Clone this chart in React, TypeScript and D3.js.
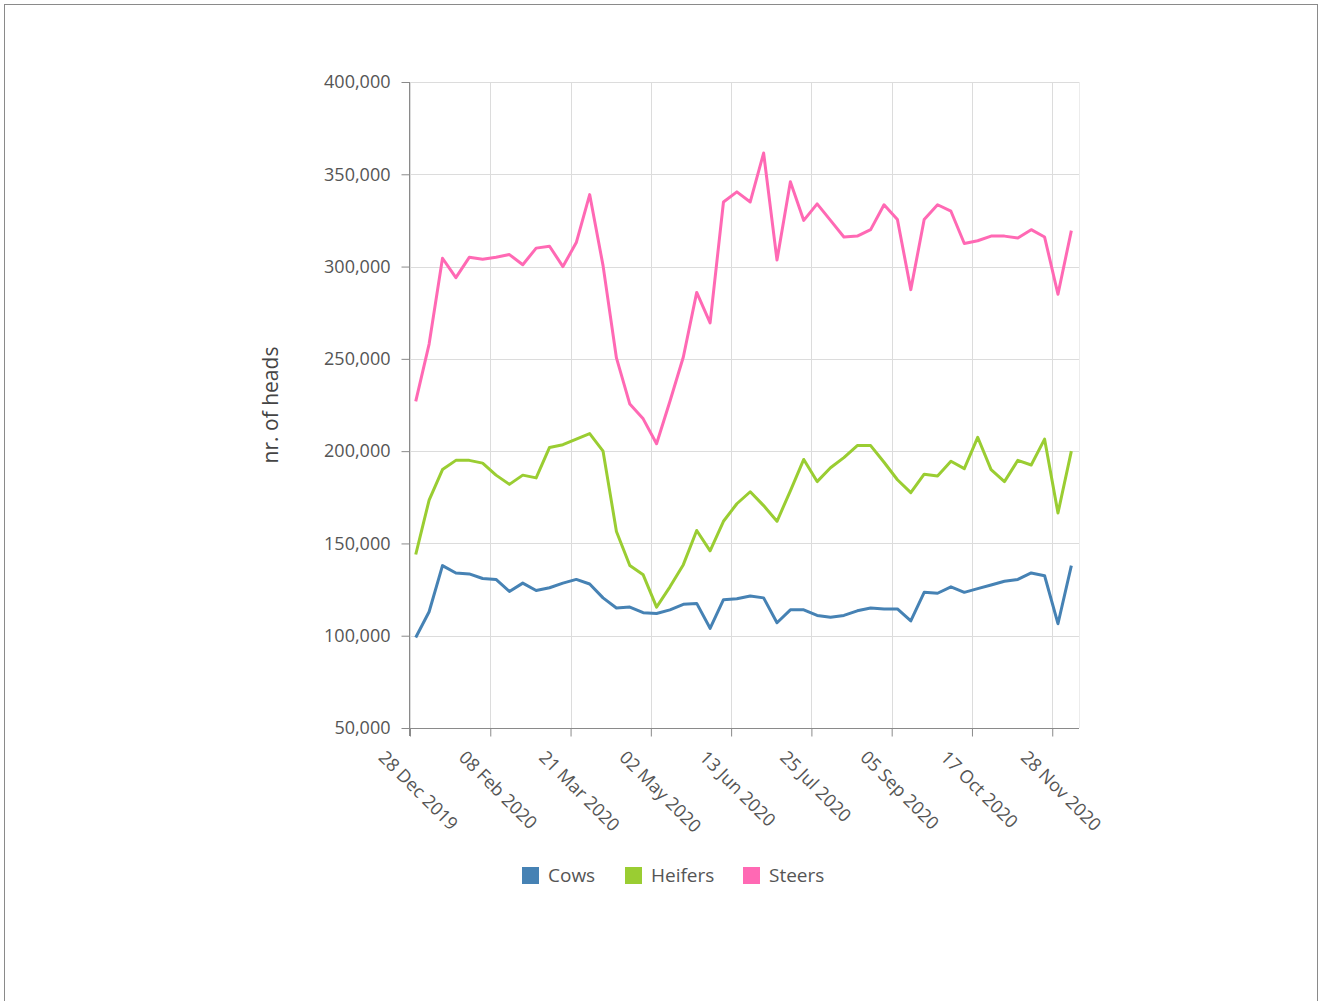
import React, {useEffect, useRef} from "react"
import * as d3 from "d3"

const weeks = [
    "2019-12-31", "2020-01-07", "2020-01-14", "2020-01-21", "2020-01-28",
    "2020-02-04", "2020-02-11", "2020-02-18", "2020-02-25", "2020-03-03",
    "2020-03-10", "2020-03-17", "2020-03-24", "2020-03-31", "2020-04-07",
    "2020-04-14", "2020-04-21", "2020-04-28", "2020-05-05", "2020-05-12",
    "2020-05-19", "2020-05-26", "2020-06-02", "2020-06-09", "2020-06-16",
    "2020-06-23", "2020-06-30", "2020-07-07", "2020-07-14", "2020-07-21",
    "2020-07-28", "2020-08-04", "2020-08-11", "2020-08-18", "2020-08-25",
    "2020-09-01", "2020-09-08", "2020-09-15", "2020-09-22", "2020-09-29",
    "2020-10-06", "2020-10-13", "2020-10-20", "2020-10-27", "2020-11-03",
    "2020-11-10", "2020-11-17", "2020-11-24", "2020-12-01", "2020-12-08",
]

const cows = [
    99000, 113000, 138000, 134000, 133500, 131000, 130500, 124000, 128500, 124500,
    126000, 128500, 130500, 128000, 120500, 115000, 115500, 112500, 112000, 114000,
    117000, 117500, 104000, 119500, 120000, 121500, 120500, 107000, 114000, 114000,
    111000, 110000, 111000, 113500, 115000, 114500, 114500, 108000, 123500, 123000,
    126500, 123500, 125500, 127500, 129500, 130500, 134000, 132500, 106500, 138000,
]

const heifers = [
    144000, 173500, 190000, 195000, 195000, 193500, 187000, 182000, 187000, 185500,
    202000, 203500, 206500, 209500, 200000, 156500, 138000, 133000, 115500, 126500,
    138500, 157000, 146000, 162000, 171500, 178000, 170500, 162000, 178500, 195500,
    183500, 191000, 196500, 203000, 203000, 194000, 184500, 177500, 187500, 186500,
    194500, 190500, 207500, 190000, 183500, 195000, 192500, 206500, 166500, 200000,
]

const steers = [
    227000, 258000, 304500, 294000, 305000, 304000, 305000, 306500, 301000, 310000,
    311000, 300000, 313000, 339000, 300500, 250500, 225500, 217500, 204000, 227000,
    251000, 286000, 269500, 335000, 340500, 335000, 361500, 303500, 346000, 325000,
    334000, 325000, 316000, 316500, 320000, 333500, 325500, 287500, 325500, 333500,
    330000, 312500, 314000, 316500, 316500, 315500, 320000, 316000, 285000, 319500,
]

const xTicks = [
    "2019-12-28", "2020-02-08", "2020-03-21", "2020-05-02", "2020-06-13",
    "2020-07-25", "2020-09-05", "2020-10-17", "2020-11-28",
]
const yTicks = [50000, 100000, 150000, 200000, 250000, 300000, 350000, 400000]

const seriesNames = ["Cows", "Heifers", "Steers"]
const seriesColors = ["#4682b4", "#9acd32", "#ff69b4"]

const FONT = "'Open Sans', sans-serif"

const App = () => {
    const ref = useRef(null)

    const margin = {top: 82, bottom: 273, left: 410, right: 243}
    const width = 1322
    const height = 1001

    const parse = d3.utcParse("%Y-%m-%d")
    const xScale = d3.scaleUtc()
        .domain([parse("2019-12-28") as Date, parse("2020-12-12") as Date])
        .range([margin.left, width - margin.right])
    const yScale = d3.scaleLinear()
        .domain([50000, 400000])
        .range([height - margin.bottom, margin.top])

    const dates = weeks.map(d => parse(d) as Date)
    const series = [cows, heifers, steers]

    useEffect(() => {
        const svg = d3.select(ref.current)
        svg.selectAll("*").remove()

        // frame around everything
        svg.append("rect")
            .attr("x", 4.5).attr("y", 4.5)
            .attr("width", 1313).attr("height", 1010)
            .attr("fill", "none").attr("stroke", "#8a8a8a")

        const [x0, x1] = xScale.range()
        const [yb, yt] = yScale.range()

        // grid
        const grid = svg.append("g")
        grid.selectAll("line.h").data(yTicks).join("line")
            .attr("x1", x0).attr("x2", x1)
            .attr("y1", d => Math.round(yScale(d)) + 0.5)
            .attr("y2", d => Math.round(yScale(d)) + 0.5)
            .attr("stroke", "#dcdcdc")
        grid.selectAll("line.v").data(xTicks.map(t => parse(t) as Date)).join("line")
            .attr("x1", d => Math.round(xScale(d)) + 0.5)
            .attr("x2", d => Math.round(xScale(d)) + 0.5)
            .attr("y1", yt).attr("y2", yb)
            .attr("stroke", "#dcdcdc")
        grid.append("line")
            .attr("x1", Math.round(x1) + 0.5).attr("x2", Math.round(x1) + 0.5)
            .attr("y1", yt).attr("y2", yb)
            .attr("stroke", "#ececec")

        // lines
        const line = d3.line<number>()
            .x((_, i) => xScale(dates[i]))
            .y(d => yScale(d))
        svg.append("g").selectAll("path").data(series).join("path")
            .attr("d", d => line(d))
            .attr("fill", "none")
            .attr("stroke", (_, i) => seriesColors[i])
            .attr("stroke-width", 3)
            .attr("stroke-linejoin", "round")

        // y axis
        const yAxis = svg.append("g")
            .attr("transform", `translate(${Math.round(x0) - 0.5},0)`)
            .call(d3.axisLeft(yScale).tickValues(yTicks).tickSize(8).tickPadding(11)
                .tickFormat(d3.format(",")))
        yAxis.select(".domain").attr("d", `M0,${yt}V${yb + 8}`)
        yAxis.selectAll("line").attr("stroke", "#8a8a8a")
        yAxis.select(".domain").attr("stroke", "#8a8a8a")
        yAxis.selectAll("text")
            .attr("font-family", FONT).attr("font-size", 18).attr("fill", "#555")

        // x axis
        const xAxis = svg.append("g")
            .attr("transform", `translate(0,${Math.round(yb) + 0.5})`)
            .call(d3.axisBottom(xScale).tickValues(xTicks.map(t => parse(t) as Date))
                .tickSize(8).tickFormat(d => d3.utcFormat("%d %b %Y")(d as Date)))
        xAxis.select(".domain").attr("d", `M${x0},0H${x1}`).attr("stroke", "#8a8a8a")
        xAxis.selectAll("line").attr("stroke", "#8a8a8a")
        xAxis.selectAll("text")
            .attr("font-family", FONT).attr("font-size", 18).attr("fill", "#555")
            .attr("text-anchor", "start")
            .attr("y", 0).attr("dy", 0)
            .attr("transform", "translate(-33,30) rotate(45)")

        // y title
        svg.append("text")
            .attr("transform", `translate(278,${(yt + yb) / 2}) rotate(-90)`)
            .attr("text-anchor", "middle")
            .attr("font-family", FONT).attr("font-size", 21).attr("fill", "#444")
            .text("nr. of heads")

        // legend
        const legendX = [522, 625, 743]
        const legend = svg.append("g").selectAll("g").data(seriesNames).join("g")
            .attr("transform", (_, i) => `translate(${legendX[i]},867)`)
        legend.append("rect")
            .attr("width", 17).attr("height", 17)
            .attr("fill", (_, i) => seriesColors[i])
        legend.append("text")
            .attr("x", 26).attr("y", 15)
            .attr("font-family", FONT).attr("font-size", 19).attr("fill", "#555")
            .text(d => d)
    }, [])

    return (
        <svg
            ref={ref}
            width={width}
            height={height}
            style={{position: "absolute", left: 0, top: 0, background: "#fff"}}
        />
    )
}

export default App
